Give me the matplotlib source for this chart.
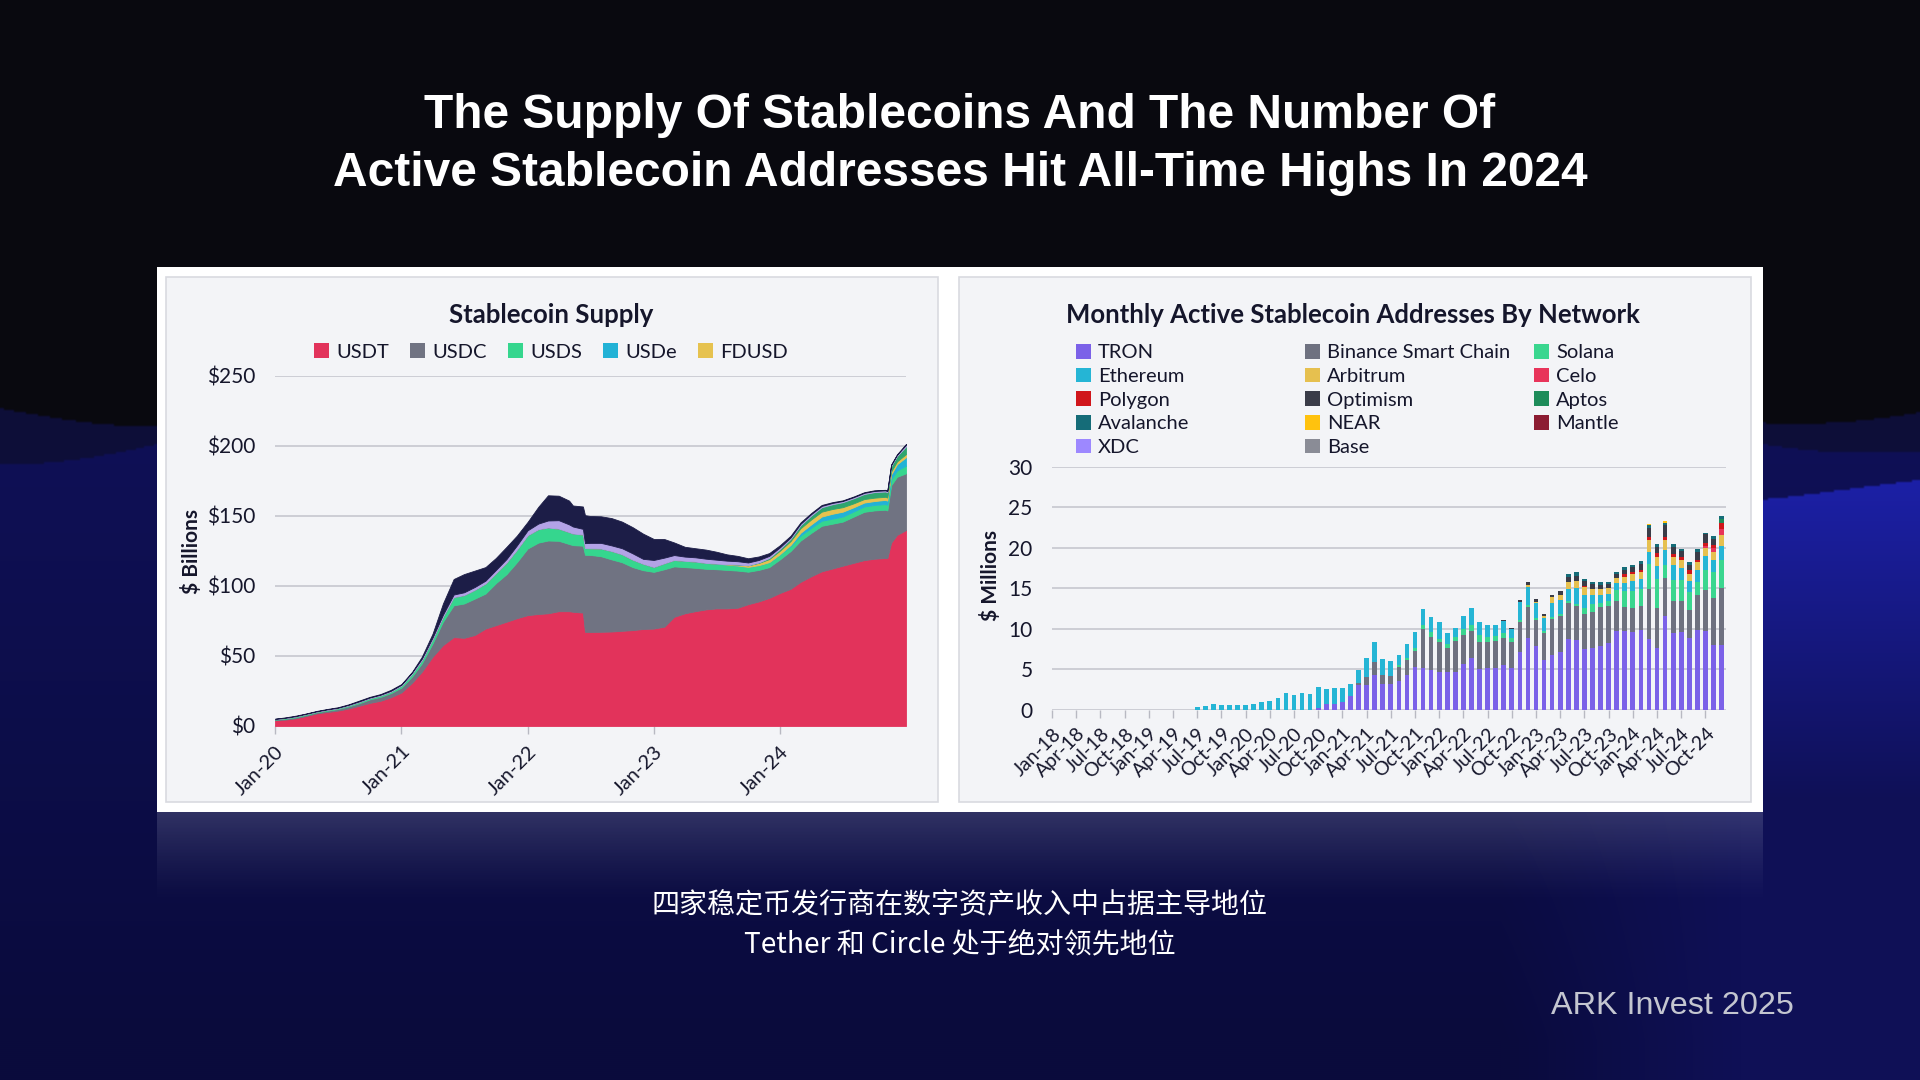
import numpy as np
import pandas as pd
import matplotlib
matplotlib.use("Agg")
import matplotlib.pyplot as plt
import matplotlib.dates as mdates
from matplotlib.patches import Rectangle, Patch

# ------------------------------------------------------------------
# DATA : Stablecoin supply ($ billions), stacked layers
# ------------------------------------------------------------------
supply_dates = [
    "2020-01-01", "2020-02-01", "2020-03-01", "2020-04-01", "2020-05-01", "2020-06-01",
    "2020-07-01", "2020-08-01", "2020-09-01", "2020-10-01", "2020-11-01", "2020-12-01",
    "2021-01-01", "2021-02-01", "2021-03-01", "2021-04-01", "2021-05-01", "2021-06-01",
    "2021-07-01", "2021-08-01", "2021-09-01", "2021-10-01", "2021-11-01", "2021-12-01",
    "2022-01-01", "2022-02-01", "2022-03-01", "2022-04-01", "2022-05-01", "2022-05-12",
    "2022-06-10", "2022-06-16", "2022-07-01", "2022-08-01", "2022-09-01", "2022-10-01",
    "2022-11-01", "2022-12-01", "2023-01-01", "2023-02-01", "2023-03-01", "2023-04-01",
    "2023-05-01", "2023-06-01", "2023-07-01", "2023-08-01", "2023-09-01", "2023-10-01",
    "2023-11-01", "2023-12-01", "2024-01-01", "2024-02-01", "2024-03-01", "2024-04-01",
    "2024-05-01", "2024-06-01", "2024-07-01", "2024-08-01", "2024-09-01", "2024-10-01",
    "2024-11-01", "2024-11-07", "2024-11-18", "2024-12-05", "2024-12-31",
]
usdt = [4.1, 4.6, 5.5, 7.2, 9.0, 10.0, 11.0, 12.5, 14.5, 16.5, 18.0, 20.5,
        24.0, 31.0, 38.8, 49.5, 57.8, 63.5, 63.0, 65.0, 69.6, 72.0, 74.5, 77.0,
        79.2, 80.0, 80.5, 82.0, 82.0, 81.6, 81.0, 67.3, 67.2, 67.3, 67.5, 68.0,
        68.5, 69.3, 69.6, 71.0, 78.0, 80.5, 82.0, 83.3, 84.0, 84.0, 84.5, 87.0,
        89.0, 91.5, 95.0, 98.0, 103.0, 107.0, 110.5, 112.5, 114.5, 116.5, 118.5, 119.5,
        120.0, 120.0, 131.0, 136.5, 140.0]
usdc = [0.5, 0.6, 0.7, 0.8, 0.8, 1.0, 1.1, 1.5, 1.8, 2.5, 2.8, 3.0,
        3.5, 4.5, 6.0, 9.5, 16.7, 22.7, 24.5, 26.0, 25.0, 30.0, 34.0, 40.0,
        47.6, 51.0, 52.0, 50.3, 48.0, 47.6, 47.8, 55.0, 55.0, 54.0, 51.5, 49.0,
        45.0, 42.0, 40.5, 41.0, 36.0, 33.0, 31.0, 29.0, 28.0, 27.5, 26.5, 23.2,
        22.5, 22.0, 24.0, 27.0, 29.5, 31.0, 32.5, 32.0, 31.5, 33.0, 34.5, 34.5,
        34.5, 34.0, 41.0, 41.5, 40.5]
usds = [0.4, 0.5, 0.6, 0.6, 0.5, 0.6, 0.6, 0.7, 0.9, 0.9, 1.0, 1.1,
        1.4, 2.0, 2.3, 3.0, 3.5, 5.9, 6.0, 6.3, 7.2, 7.2, 8.3, 9.0,
        9.5, 9.6, 9.3, 8.7, 8.5, 8.3, 8.0, 4.8, 4.8, 5.5, 6.0, 5.7,
        5.3, 4.6, 3.5, 4.3, 4.6, 4.5, 4.5, 4.2, 4.0, 3.8, 3.6, 3.4,
        3.4, 3.5, 3.5, 3.5, 3.6, 3.6, 3.6, 3.6, 3.6, 3.7, 3.8, 3.9,
        4.0, 4.0, 4.2, 4.5, 5.5]
usde = [0.0] * 50 + [0.2, 0.8, 2.0, 2.5, 3.0, 3.5, 3.5, 3.0, 2.8, 2.8,
                     3.0, 3.0, 3.5, 4.5, 6.0]
fdusd = [0.0] * 45 + [0.3, 0.8, 1.2, 1.6, 2.2, 2.5, 2.8, 3.2, 3.5, 3.5,
                      3.4, 3.2, 2.8, 2.5, 2.4, 2.2, 2.2, 2.1, 2.0, 2.2]
other_green = [0.0] * 48 + [0.3, 0.8, 1.2, 1.6, 2.2, 2.8, 3.2, 3.4, 3.6, 3.6,
                            3.6, 4.0, 3.8, 3.8, 3.8, 3.9, 5.5]
tusd = [0.1, 0.2, 0.2, 0.2, 0.2, 0.3, 0.3, 0.4, 0.4, 0.4, 0.5, 0.5,
        0.6, 0.8, 1.0, 1.2, 1.5, 1.8, 2.0, 2.0, 2.0, 2.2, 2.5, 3.0,
        3.5, 4.0, 5.0, 6.0, 5.5, 5.0, 4.0, 3.5, 3.8, 4.0, 4.0, 4.3,
        4.5, 3.5, 5.0, 4.0, 3.5, 3.0, 3.0, 3.0, 2.8, 2.5, 2.3, 2.0,
        1.8, 1.5, 1.2, 1.0, 1.0, 1.0, 0.9, 0.9, 0.8, 0.8, 0.8, 0.8,
        0.8, 0.8, 0.8, 0.8, 1.2]
busd = [0.1, 0.3, 0.4, 0.2, 0.3, 0.3, 0.4, 0.4, 0.6, 0.5, 0.5, 0.7,
        0.5, 0.5, 1.4, 2.8, 8.0, 11.1, 13.0, 11.7, 9.7, 8.6, 8.7, 7.0,
        6.0, 12.0, 18.0, 17.5, 17.0, 15.0, 16.0, 20.0, 19.2, 19.0, 19.5, 19.0,
        18.7, 18.0, 15.0, 13.2, 9.0, 7.0, 6.5, 6.5, 5.7, 4.5, 3.8, 3.0,
        2.5, 2.0, 1.5, 1.2, 1.0, 0.8, 0.7, 0.6, 0.5, 0.5, 0.5, 0.5,
        0.4, 0.4, 0.4, 0.4, 0.6]
supply_legend = ["USDT", "USDC", "USDS", "USDe", "FDUSD"]
supply_colors = ["#e2335b", "#707382", "#35d68e", "#22b2d6", "#e6c24f",
                 "#2fa56e", "#b3a3e6", "#1c1d47"]
supply_yticks = [0, 50, 100, 150, 200, 250]
supply_ytick_labels = ["$0", "$50", "$100", "$150", "$200", "$250"]
supply_xtick_dates = ["2020-01-01", "2021-01-01", "2022-01-01", "2023-01-01", "2024-01-01"]
supply_xtick_labels = ["Jan-20", "Jan-21", "Jan-22", "Jan-23", "Jan-24"]

# ------------------------------------------------------------------
# DATA : Monthly active stablecoin addresses by network (millions)
# Jan-18 ... Dec-24 (84 months)
# ------------------------------------------------------------------
networks = ["TRON", "Binance Smart Chain", "Solana", "Ethereum", "Arbitrum", "Celo",
            "Polygon", "Optimism", "Aptos", "Avalanche", "NEAR", "Mantle", "XDC", "Base"]
tron = [0.0] * 33 + [0.2, 0.7, 0.65, 1.0, 1.7, 3.0, 3.0, 4.25, 3.15, 3.15,
                     3.6, 4.25, 5.3, 5.2, 4.9, 4.7, 4.6, 4.7, 5.6, 6.4,
                     5.0, 5.2, 5.2, 5.5, 5.1, 7.1, 8.9, 7.9, 6.1, 6.7,
                     7.1, 8.7, 8.6, 7.5, 7.6, 7.9, 8.2, 9.75, 9.7, 9.6,
                     9.8, 8.7, 7.6, 11.6, 9.5, 9.6, 8.9, 9.8, 9.75, 8.0, 8.0]
bsc = [0.0] * 38 + [0.3, 1.0, 1.65, 1.1, 0.95, 1.7, 1.85, 2.0, 4.8, 4.1,
                    3.6, 3.0, 3.8, 3.6, 3.3, 3.4, 3.2, 3.3, 3.4, 3.2,
                    3.7, 3.8, 3.2, 3.4, 4.5, 4.5, 4.5, 4.2, 4.3, 4.5,
                    4.8, 4.6, 3.65, 3.0, 2.9, 3.0, 6.2, 5.0, 4.7, 3.9,
                    3.8, 3.4, 4.3, 5.0, 5.8, 7.0]
solana = [0.0] * 43 + [0.2, 0.3, 0.3, 0.4, 0.6, 0.45, 0.5, 0.5, 0.7, 0.7,
                       0.8, 0.6, 0.6, 0.6, 0.5, 0.3, 0.2, 0.2, 0.2, 0.2,
                       0.2, 0.2, 0.3, 0.8, 0.9, 0.5, 0.6, 1.4, 1.9, 2.2,
                       2.1, 3.1, 3.5, 1.5, 2.6, 2.6, 2.2, 1.6, 2.5, 3.2, 3.5]
ethereum = [0.0] * 18 + [0.3, 0.5, 0.65, 0.57, 0.53, 0.53, 0.53, 0.7, 1.0, 1.07,
                         1.5, 2.0, 1.76, 2.0, 1.9, 2.6, 1.9, 2.05, 1.7, 1.5,
                         1.65, 2.4, 2.4, 1.95, 1.9, 1.3, 1.7, 2.0, 2.0, 1.8,
                         2.05, 1.35, 1.1, 1.7, 2.1, 1.6, 1.5, 1.35, 1.4, 1.2,
                         2.2, 2.3, 1.9, 1.6, 1.8, 1.7, 1.5, 1.9, 1.6, 1.1,
                         1.0, 0.9, 0.8, 1.0, 1.2, 1.2, 1.5, 1.6, 1.9, 1.8,
                         1.5, 1.4, 1.6, 1.7, 1.5, 1.7]
arbitrum = [0.0] * 59 + [0.2, 0.1, 0.3, 0.7, 0.7, 0.9, 0.9, 0.9, 0.8, 0.7,
                         0.7, 0.6, 0.8, 0.8, 0.9, 1.4, 1.1, 1.2, 1.0, 1.0,
                         0.9, 0.9, 1.0, 1.0, 1.4]
celo = [0.0] * 81 + [0.3, 0.5, 0.7]
polygon = [0.0] * 66 + [0.2, 0.0, 0.0, 0.0, 0.0, 0.3, 0.3, 0.3, 0.4, 0.5,
                        0.4, 0.4, 0.3, 0.4, 0.3, 0.3, 0.3, 0.7]
optimism = [0.0] * 56 + [0.2, 0.1, 0.2, 0.4, 0.3, 0.2, 0.3, 0.4, 0.6, 0.6,
                         0.6, 0.6, 0.5, 0.5, 0.5, 0.6, 0.6, 0.7, 1.1, 0.8,
                         1.5, 0.9, 0.8, 0.7, 1.0, 1.1, 0.8, 0.0]
aptos = [0.0] * 83 + [0.5]
avalanche = [0.0] * 64 + [0.4, 0.5, 0.2, 0.3, 0.3, 0.3, 0.3, 0.3, 0.3, 0.3,
                          0.4, 0.3, 0.3, 0.3, 0.2, 0.3, 0.3, 0.15, 0.3, 0.4]
near = [0.0] * 74 + [0.15, 0.0, 0.2, 0.1, 0.0, 0.0, 0.0, 0.0, 0.0, 0.0]
mantle = [0.0] * 84
xdc = [0.0] * 84
base = [0.0] * 84
network_colors = ["#7b61e8", "#6e7180", "#3ad68f", "#25b5d5", "#e6c04f", "#e8345a",
                  "#d0161b", "#3a3c48", "#1e8c5a", "#156c78", "#ffc20e", "#8c1c32",
                  "#9d88ff", "#8a8c96"]
addr_xtick_labels = ["Jan-18", "Apr-18", "Jul-18", "Oct-18", "Jan-19", "Apr-19", "Jul-19",
                     "Oct-19", "Jan-20", "Apr-20", "Jul-20", "Oct-20", "Jan-21", "Apr-21",
                     "Jul-21", "Oct-21", "Jan-22", "Apr-22", "Jul-22", "Oct-22", "Jan-23",
                     "Apr-23", "Jul-23", "Oct-23", "Jan-24", "Apr-24", "Jul-24", "Oct-24"]
addr_yticks = [0, 5, 10, 15, 20, 25, 30]

# ------------------------------------------------------------------
W, H = 1920, 1080
fig = plt.figure(figsize=(19.2, 10.8), dpi=100)

def fx(px):
    return px / W

def fy(py):
    return 1 - py / H

# ---- decorative background (dark top, layered navy waves, bright blue right)
bg = fig.add_axes([0, 0, 1, 1], zorder=-10)
Y, X = np.mgrid[0:540, 0:960] * 2.0
def hexc(h):
    h = h.lstrip("#")
    return np.array([int(h[i:i + 2], 16) for i in (0, 2, 4)]) / 255.0
img = np.ones((540, 960, 3)) * hexc("#09090f")
w1 = 395 + 22 * np.sin(X / 230.0 + 0.6) + 10 * np.sin(X / 90.0)
img[Y > w1] = hexc("#0d0e38")
w2 = 440 + 18 * np.sin(X / 170.0 + 2.0) + 8 * np.sin(X / 70.0 + 1)
m2 = Y > w2
t = np.clip((Y - 440) / 600.0, 0, 1)[..., None]
navy = hexc("#0f1056") * (1 - t) + hexc("#0a0b3c") * t
img[m2] = navy[m2]
w3 = 488 + 16 * np.sin(X / 120.0 + 0.3)
m3 = (Y > w3) & (X > 1500)
tb = np.clip((Y - 480) / 320.0, 0, 1)[..., None]
bright = hexc("#1c20a6") * (1 - tb) + hexc("#0f1056") * tb
hx = np.clip((X - 1500) / 240.0, 0, 1)[..., None]
mix = bright * hx + navy * (1 - hx)
img[m3] = mix[m3]
bg.imshow(np.clip(img, 0, 1), aspect="auto", extent=[0, 1, 0, 1], interpolation="bilinear")
bg.set_axis_off()

# white panel + cards
fig.add_artist(Rectangle((fx(157), fy(812)), fx(1606), 545 / H, transform=fig.transFigure,
                         facecolor="white", edgecolor="none", zorder=-5))
for x0, x1 in [(166, 938), (959, 1751)]:
    fig.add_artist(Rectangle((fx(x0), fy(802)), fx(x1 - x0), 525 / H, transform=fig.transFigure,
                             facecolor="#f3f4f7", edgecolor="#d9dae0", lw=1.2, zorder=-4))

# reflection under the panel
refl = fig.add_axes([fx(157), fy(905), fx(1606), 93 / H], zorder=-6)
ra = np.zeros((60, 10, 4))
ra[..., :3] = np.array([0.75, 0.77, 0.85])
ra[..., 3] = (np.linspace(0.30, 0.0, 60) ** 1.3)[:, None]
refl.imshow(ra, aspect="auto", extent=[0, 1, 0, 1])
refl.set_axis_off()

# titles and captions
title_font = "Liberation Sans"
fig.text(0.5, fy(116), "The Supply Of Stablecoins And The Number Of", ha="center", va="center",
         color="white", fontsize=34.5, fontweight="bold", family=title_font)
fig.text(0.5, fy(173), "Active Stablecoin Addresses Hit All-Time Highs In 2024", ha="center",
         va="center", color="white", fontsize=34.5, fontweight="bold", family=title_font)
cjk = ["Noto Sans CJK SC", "DejaVu Sans"]
fig.text(0.5, fy(904), "四家稳定币发行商在数字资产收入中占据主导地位", ha="center", va="center",
         color="white", fontsize=20.2, family=cjk)
fig.text(0.5, fy(945), "Tether 和 Circle 处于绝对领先地位", ha="center", va="center",
         color="white", fontsize=20.2, family=cjk)
fig.text(fx(1794), fy(1006), "ARK Invest 2025", ha="right", va="center", color="#c4c6d0",
         fontsize=23.3, family=title_font)

chart_font = "Lato"
dark = "#15162b"
grid_c = "#c9cad2"

# ------------------ left chart ------------------
axL = fig.add_axes([fx(275), fy(726), fx(631), 350 / H])
axL.set_facecolor("none")
xd = mdates.date2num(pd.to_datetime(supply_dates))
axL.stackplot(xd, usdt, usdc, usds, usde, fdusd, other_green, tusd, busd,
              colors=supply_colors, linewidth=0)
for coll in axL.collections:
    coll.set_edgecolor(coll.get_facecolor())
    coll.set_linewidth(0.6)
axL.set_xlim(mdates.date2num(pd.Timestamp("2020-01-01")), mdates.date2num(pd.Timestamp("2024-12-31")))
axL.set_ylim(0, 250)
axL.set_yticks(supply_yticks)
axL.set_yticklabels(supply_ytick_labels)
axL.set_xticks(mdates.date2num(pd.to_datetime(supply_xtick_dates)))
axL.set_xticklabels(supply_xtick_labels, rotation=45, ha="right", rotation_mode="anchor")
axL.grid(axis="y", color=grid_c, lw=1.3)
axL.set_axisbelow(True)
for s in axL.spines.values():
    s.set_visible(False)
axL.tick_params(axis="y", length=0, pad=14, labelsize=15, labelcolor=dark)
axL.tick_params(axis="x", length=6, width=1, color="#b8b9c2", pad=6, labelsize=14.5, labelcolor=dark)
for tl in axL.get_xticklabels() + axL.get_yticklabels():
    tl.set_family(chart_font)
axL.set_ylabel("$ Billions", fontsize=15, fontweight="bold", color=dark, family=chart_font)
axL.yaxis.set_label_coords((202 - 275) / 631, 0.5)
fig.text(fx(551), fy(315), "Stablecoin Supply", ha="center", va="center", fontsize=18.5,
         fontweight="bold", color=dark, family=chart_font)
hL = [Patch(facecolor=c, edgecolor="none") for c in supply_colors[:5]]
legL = fig.legend(hL, supply_legend, loc="center", bbox_to_anchor=(fx(551), fy(352)), ncol=5,
                  frameon=False, handlelength=0.75, handleheight=0.75, handletextpad=0.35,
                  columnspacing=1.05, borderpad=0, prop={"family": chart_font, "size": 14.5})
for tl in legL.get_texts():
    tl.set_color(dark)

# ------------------ right chart ------------------
axR = fig.add_axes([fx(1052), fy(709.7), fx(674), 243.1 / H])
axR.set_facecolor("none")
series = [tron, bsc, solana, ethereum, arbitrum, celo, polygon, optimism, aptos,
          avalanche, near, mantle, xdc, base]
months = np.arange(len(tron))
bottom = np.zeros(len(tron))
for vals, c in zip(series, network_colors):
    v = np.array(vals, dtype=float)
    axR.bar(months, v, bottom=bottom, width=0.58, color=c, linewidth=0)
    bottom = bottom + v
axR.set_xlim(0, 83.55)
axR.set_ylim(0, 30)
axR.set_yticks(addr_yticks)
axR.set_xticks(np.arange(0, 84, 3))
axR.set_xticklabels(addr_xtick_labels, rotation=45, ha="right", rotation_mode="anchor")
axR.grid(axis="y", color=grid_c, lw=1.3)
axR.set_axisbelow(True)
for s in axR.spines.values():
    s.set_visible(False)
axR.tick_params(axis="y", length=0, pad=14, labelsize=15, labelcolor=dark)
axR.tick_params(axis="x", length=6, width=1, color="#b8b9c2", pad=5, labelsize=14, labelcolor=dark)
for tl in axR.get_xticklabels() + axR.get_yticklabels():
    tl.set_family(chart_font)
axR.set_ylabel("$ Millions", fontsize=15, fontweight="bold", color=dark, family=chart_font)
axR.yaxis.set_label_coords((1001 - 1052) / 674, 0.55)
fig.text(fx(1353), fy(315), "Monthly Active Stablecoin Addresses By Network", ha="center",
         va="center", fontsize=18.5, fontweight="bold", color=dark, family=chart_font)

col_x = [1076, 1305, 1534]
cols = [[0, 3, 6, 9, 12], [1, 4, 7, 10, 13], [2, 5, 8, 11]]
for cx, idxs in zip(col_x, cols):
    hs = [Patch(facecolor=network_colors[i], edgecolor="none") for i in idxs]
    lg = fig.legend(hs, [networks[i] for i in idxs], loc="upper left",
                    bbox_to_anchor=(fx(cx), fy(344)), ncol=1, frameon=False,
                    handlelength=0.75, handleheight=0.75, handletextpad=0.35,
                    labelspacing=0.31, borderpad=0, borderaxespad=0,
                    prop={"family": chart_font, "size": 14.5})
    for tl in lg.get_texts():
        tl.set_color(dark)

fig.savefig("out.png", dpi=100)
